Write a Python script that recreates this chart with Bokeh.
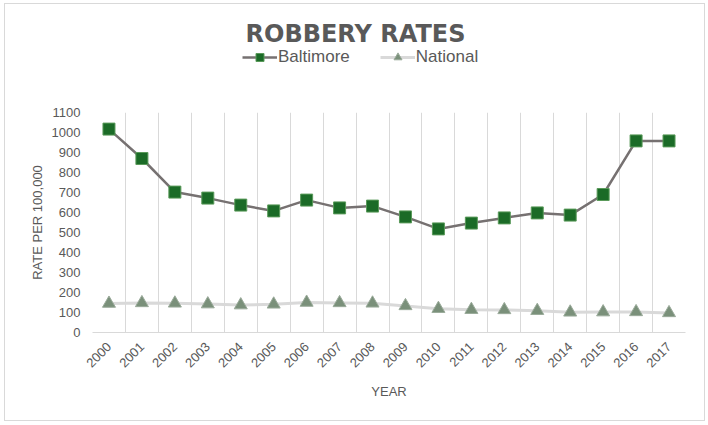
from bokeh.plotting import figure
from bokeh.layouts import column
from bokeh.models import FixedTicker, Legend, LegendItem, ColumnDataSource, Range1d, Label
from bokeh.embed import file_html
from bokeh.resources import INLINE
import math

years = ["2000", "2001", "2002", "2003", "2004", "2005", "2006", "2007", "2008",
         "2009", "2010", "2011", "2012", "2013", "2014", "2015", "2016", "2017"]
baltimore = [1017, 870, 702, 672, 637, 608, 662, 623, 632,
             578, 518, 547, 573, 598, 587, 690, 958, 958]
national = [145, 148, 146, 142, 137, 141, 150, 148, 146,
            133, 119, 114, 113, 109, 101, 102, 103, 98]
y_ticks = [0, 100, 200, 300, 400, 500, 600, 700, 800, 900, 1000, 1100]

TEXT = "#595959"
AXIS_FONT = "Liberation Sans"

BALT_LINE = dict(line_color="#767171", line_width=2.5)
BALT_MARK = dict(marker="square", size=12, fill_color="#1b6b27", line_color="#5a9a5a", line_width=1)
NAT_LINE = dict(line_color="#d9d9d9", line_width=3)
NAT_MARK = dict(marker="triangle", size=13, fill_color="#7a907a", line_color="#9aaa9a", line_width=1)

# category centres sit halfway between the vertical grid lines
xs = [i + 0.5 for i in range(len(years))]
src = ColumnDataSource(dict(x=xs, balt=baltimore, nat=national))

# ---- header: title and legend ----
head = figure(width=699, height=100, output_backend="svg", toolbar_location=None,
              x_range=Range1d(0, 1), y_range=Range1d(0, 1),
              x_axis_type=None, y_axis_type=None, min_border=0)
head.outline_line_color = None
head.grid.visible = False

# legend keys: one undrawn (NaN) row so the legend can render each style
key_src = ColumnDataSource(dict(x=[float("nan")], y=[float("nan")]))
kbl = head.line("x", "y", source=key_src, **BALT_LINE)
kbm = head.scatter("x", "y", source=key_src, **BALT_MARK)
knl = head.line("x", "y", source=key_src, **NAT_LINE)
knm = head.scatter("x", "y", source=key_src, **NAT_MARK)

head.add_layout(Label(x=263, y=71, x_units="screen", y_units="screen",
                      text="ROBBERY RATES", text_align="center", text_baseline="alphabetic",
                      text_font="DejaVu Sans", text_font_style="bold",
                      text_font_size="24px", text_color=TEXT))

legend = Legend(items=[LegendItem(label="Baltimore", renderers=[kbl, kbm]),
                       LegendItem(label="National", renderers=[knl, knm])],
                orientation="horizontal", location=(150, 37),
                border_line_color=None, background_fill_alpha=0,
                label_text_font="Liberation Sans", label_text_font_size="17px",
                label_text_color=TEXT, glyph_width=35, glyph_height=20, spacing=30,
                label_standoff=1, padding=0, margin=0)
head.add_layout(legend)

# ---- main chart ----
p = figure(width=699, height=316, output_backend="svg", toolbar_location=None,
           x_range=Range1d(0, len(years)), y_range=Range1d(0, 1100),
           min_border_left=87, min_border_right=19, min_border_top=8, min_border_bottom=88)
p.outline_line_color = None

# vertical grid lines on category boundaries, no horizontal grid
p.xgrid.ticker = FixedTicker(ticks=list(range(len(years) + 1)))
p.xgrid.grid_line_color = "#d9d9d9"
p.ygrid.grid_line_color = None

p.xaxis.ticker = FixedTicker(ticks=xs)
p.xaxis.major_label_overrides = {x: y for x, y in zip(xs, years)}
p.xaxis.major_label_orientation = math.pi / 4
p.xaxis.axis_line_color = "#d9d9d9"
p.xaxis.major_tick_line_color = None
p.xaxis.minor_tick_line_color = None
p.xaxis.major_label_standoff = 6
p.xaxis.axis_label = "YEAR"
p.xaxis.axis_label_standoff = 10

p.yaxis.ticker = FixedTicker(ticks=y_ticks)
p.yaxis.axis_line_color = None
p.yaxis.major_tick_line_color = None
p.yaxis.minor_tick_line_color = None
p.yaxis.major_label_standoff = 6
p.yaxis.axis_label = "RATE PER 100,000"
p.yaxis.axis_label_standoff = 4

for ax in (p.xaxis, p.yaxis):
    ax.major_label_text_font = AXIS_FONT
    ax.major_label_text_font_size = "13px"
    ax.major_label_text_color = TEXT
    ax.axis_label_text_font = AXIS_FONT
    ax.axis_label_text_font_size = "13px"
    ax.axis_label_text_font_style = "normal"
    ax.axis_label_text_color = TEXT

p.line("x", "balt", source=src, **BALT_LINE)
p.scatter("x", "balt", source=src, **BALT_MARK)
p.line("x", "nat", source=src, **NAT_LINE)
p.scatter("x", "nat", source=src, **NAT_MARK)

page = column(head, p, spacing=0,
              styles={"margin-left": "4px", "margin-top": "3px", "border": "1px solid #d9d9d9"})

open("out.html", "w").write(file_html(page, INLINE))
